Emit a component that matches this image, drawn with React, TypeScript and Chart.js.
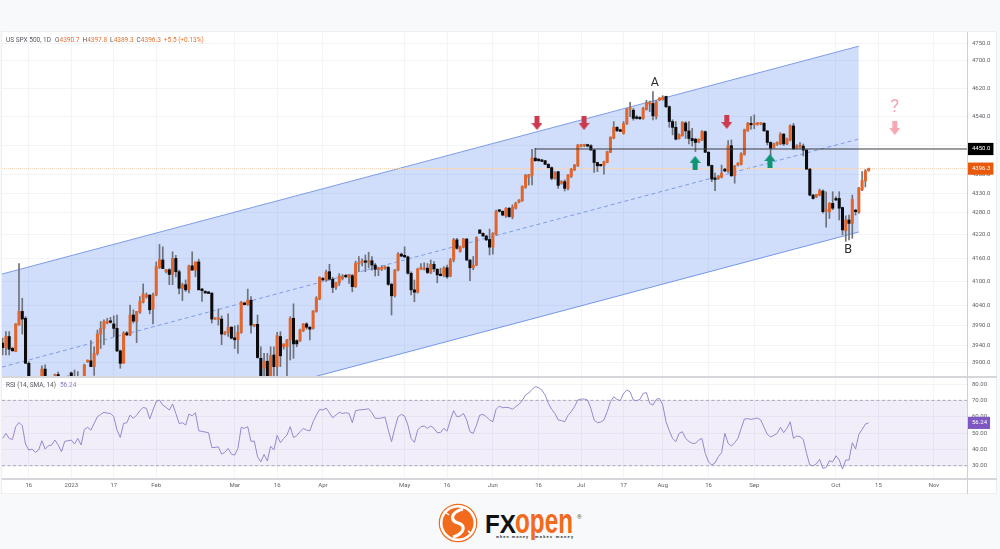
import React, { useEffect, useRef } from "react";
import { Chart, registerables } from "chart.js";

Chart.register(...registerables);

const opens = [
3947,3936,3963,3934,3927,3991,4025,4008,3898,3835,
3810,3820,3840,3884,3835,3825,3850,3871,3860,3850,
3845,3875,3855,3865,3858,3860,3902,3904,3890,3922,
3969,3983,3996,4001,3994,3983,3928,3898,3972,3967,
4016,4000,4023,4048,4061,4066,4031,4066,4136,4155,
4125,4130,4118,4159,4125,4083,4092,4079,4140,4129,
4150,4081,4075,4073,4071,4006,4005,4006,3969,3973,
3986,3960,3955,3973,4046,4042,4053,3989,3993,3910,
3886,3903,3835,3918,3890,3963,3938,3938,3955,4008,
3953,3952,3977,3994,3986,3983,4025,4056,4106,4104,
4125,4106,4086,4097,4108,4113,4111,4115,4087,4145,
4149,4152,4149,4153,4142,4131,4131,4134,4136,4093,
4064,4129,4170,4165,4163,4121,4079,4073,4132,4131,
4134,4123,4144,4131,4117,4116,4135,4114,4155,4207,
4177,4188,4209,4155,4135,4142,4233,4224,4217,4208,
4188,4222,4284,4282,4270,4290,4267,4290,4306,4310,
4346,4373,4378,4425,4422,4420,4418,4408,4399,4370,
4388,4357,4361,4343,4375,4393,4404,4457,4459,4460,
4459,4447,4413,4406,4405,4413,4441,4480,4510,4503,
4493,4520,4561,4558,4538,4535,4535,4560,4575,4577,
4540,4587,4588,4597,4568,4526,4510,4479,4487,4522,
4500,4479,4477,4469,4475,4498,4441,4405,4368,4369,
4373,4395,4389,4459,4377,4406,4408,4435,4500,4519,
4517,4518,4519,4521,4500,4468,4454,4463,4464,4491,
4464,4475,4514,4452,4456,4458,4447,4395,4325,4320,
4325,4336,4282,4281,4303,4316,4316,4292,4231,4259,
4250,4285,4279,4339,4363,4390.7];

const highs = [
3959,3975,3975,3937,3995,4146,4058,4012,3902,3850,
3830,3840,3892,3894,3850,3845,3872,3877,3866,3860,
3868,3877,3882,3878,3866,3896,3906,3953,3938,3979,
4000,4004,4008,4010,4014,4016,3930,3975,3975,4041,
4029,4025,4062,4094,4071,4066,4071,4150,4195,4189,
4131,4133,4176,4167,4129,4096,4104,4142,4176,4150,
4157,4083,4077,4075,4071,4008,4031,4014,3975,4019,
3987,3989,3991,4050,4048,4081,4062,3993,4016,3938,
3922,3922,3938,3938,3973,3975,3945,3956,4012,4044,
3955,3981,3995,3997,3987,4027,4062,4112,4111,4129,
4144,4111,4098,4120,4118,4118,4118,4118,4152,4164,
4158,4168,4175,4164,4146,4136,4140,4140,4139,4096,
4131,4174,4173,4189,4165,4125,4104,4134,4146,4148,
4146,4155,4151,4133,4134,4138,4142,4159,4211,4211,
4191,4211,4211,4155,4164,4215,4233,4225,4219,4235,
4226,4285,4286,4283,4292,4292,4299,4306,4313,4350,
4381,4381,4449,4452,4424,4422,4419,4410,4401,4388,
4389,4364,4366,4381,4397,4408,4463,4463,4463,4463,
4462,4449,4414,4408,4417,4444,4484,4526,4512,4505,
4526,4563,4580,4563,4543,4540,4566,4586,4584,4611,
4585,4594,4599,4598,4570,4531,4526,4492,4526,4526,
4526,4507,4480,4478,4501,4500,4443,4406,4384,4378,
4406,4397,4473,4475,4405,4413,4440,4505,4524,4540,
4545,4524,4523,4523,4501,4470,4466,4470,4495,4493,
4480,4517,4521,4462,4468,4464,4449,4397,4327,4327,
4341,4339,4334,4305,4334,4321,4334,4293,4270,4272,
4325,4287,4346,4388,4394,4397.8];

const lows = [
3918,3918,3918,3928,3926,3991,3969,3898,3820,3800,
3795,3805,3825,3820,3815,3810,3835,3850,3840,3825,
3830,3845,3840,3850,3845,3855,3900,3890,3869,3918,
3934,3943,3994,3996,3963,3926,3886,3898,3965,3965,
3996,3948,4020,4046,4058,4019,3994,4064,4133,4133,
4122,4092,4092,4112,4069,4052,4075,4071,4129,4112,
4079,4050,4071,4070,3996,4005,3991,3943,3967,3963,
3957,3934,3922,3971,4041,4040,3971,3987,3910,3810,
3830,3820,3820,3840,3867,3890,3932,3867,3906,3910,
3938,3951,3975,3981,3955,3981,4023,4054,4103,4100,
4104,4072,4080,4090,4104,4110,4095,4074,4085,4125,
4140,4125,4135,4129,4114,4115,4128,4131,4090,4016,
4061,4127,4163,4161,4119,4066,4049,4071,4130,4129,
4120,4120,4125,4097,4114,4112,4108,4112,4150,4183,
4175,4186,4153,4102,4130,4140,4224,4216,4205,4168,
4170,4219,4280,4270,4266,4266,4262,4288,4304,4308,
4343,4352,4352,4416,4416,4415,4407,4398,4366,4368,
4343,4354,4336,4339,4372,4391,4402,4456,4456,4456,
4447,4386,4388,4403,4381,4412,4440,4478,4498,4498,
4491,4518,4540,4530,4533,4532,4532,4558,4554,4531,
4533,4585,4586,4565,4510,4489,4475,4477,4485,4479,
4464,4458,4443,4467,4473,4440,4403,4361,4337,4367,
4371,4388,4386,4375,4357,4404,4406,4433,4499,4505,
4506,4516,4517,4499,4461,4431,4452,4460,4462,4460,
4462,4472,4450,4450,4452,4431,4394,4323,4314,4318,
4323,4277,4240,4263,4286,4310,4259,4220,4203,4207,
4211,4272,4276,4337,4347,4389.3];

const closes = [
3936,3963,3932,3928,3994,4025,4006,3898,3835,3810,
3820,3830,3884,3835,3825,3838,3871,3860,3850,3845,
3862,3855,3865,3858,3862,3894,3904,3890,3922,3969,
3983,4000,4001,3998,3983,3928,3898,3971,3967,4016,
4001,4025,4050,4069,4066,4029,4066,4138,4155,4133,
4130,4118,4159,4125,4083,4092,4079,4140,4129,4150,
4079,4077,4071,4070,4006,4008,4007,3969,3974,3986,
3959,3955,3973,4048,4042,4053,3991,3993,3912,3820,
3903,3835,3916,3890,3965,3916,3945,3955,4008,3945,
3945,3979,3994,3986,3981,4026,4058,4111,4104,4124,
4106,4085,4097,4114,4112,4112,4117,4087,4146,4149,
4151,4149,4153,4142,4131,4134,4136,4138,4093,4064,
4129,4170,4165,4163,4121,4079,4073,4132,4135,4134,
4123,4144,4132,4117,4115,4134,4112,4155,4207,4185,
4189,4209,4155,4135,4142,4213,4224,4217,4207,4188,
4224,4282,4282,4272,4290,4268,4293,4303,4312,4348,
4378,4380,4425,4418,4418,4416,4408,4399,4370,4386,
4351,4361,4343,4379,4395,4406,4461,4459,4460,4458,
4447,4413,4404,4404,4415,4443,4482,4510,4501,4499,
4520,4561,4563,4535,4535,4534,4563,4579,4578,4542,
4582,4592,4595,4568,4526,4510,4477,4489,4524,4500,
4479,4473,4468,4477,4498,4441,4405,4368,4367,4375,
4384,4390,4459,4377,4404,4411,4437,4503,4521,4517,
4520,4521,4521,4500,4468,4452,4464,4468,4491,4464,
4478,4514,4450,4458,4460,4447,4395,4325,4316,4327,
4337,4281,4284,4303,4290,4312,4290,4233,4259,4250,
4314,4281,4344,4364,4390,4396.3];

const rsi = [
46.7,49.8,46.7,46.1,53.9,56.5,54.5,43.3,39.6,40.2,
38.2,39.6,45.3,40.2,42.2,42.7,45.7,42.7,38.6,44.9,
45.3,45.7,43.3,46.7,42.7,52.2,53.5,51.8,55.9,60,
61.4,62.7,62.2,62,60,51.8,47.3,55.9,56.3,61,
59,61,63.7,65.7,65.1,58.6,64.1,69.2,70.2,67.1,
65.7,64.1,67.8,62,55.9,56.3,54.9,61.6,60.6,62.4,
51.4,51,50.6,50.2,41.2,41.2,41.6,37.1,38.2,40.6,
37.1,36.5,40.6,53.5,52.9,53.9,44.9,45.1,35.5,32.4,
36.9,32.9,42,39.6,48.6,44.1,46.7,48.8,53.9,47.3,
48.4,50.8,52.9,51.8,51.4,56.9,61,64.5,64.1,65.3,
62.4,59.4,61,62.7,62,62.4,62,56.3,63.7,64.1,
64.3,64.5,64.9,62.4,59,59,59.2,59.8,51.8,44.7,
52.9,60,61.4,60.4,54.9,46.7,44.3,51.8,53.9,54.3,
52.9,54.3,52.9,50.2,50.4,52.9,51.2,58,63.7,60,
60.4,62,58,50.8,49.8,54.9,61,61.4,60,58,
56.9,64.5,66.5,65.5,65.7,65.5,64.5,66.1,67.6,69.8,
73.3,74.5,76.7,78.4,77.8,76.3,73.3,68.2,64.5,62,
58,57.6,56.9,60.8,63.1,66.1,70.2,70.8,70.8,70.2,
65.1,58,56.3,56.7,58,63.1,69.2,72.2,70.6,69.8,
74.3,76.3,75.3,70.2,69.8,70.6,74.3,74.7,68.2,67.1,
70.6,71.2,67.1,56.9,51.4,46.7,44.7,49.8,50.8,46.7,
44.9,43.7,43.7,45.7,46.7,37.6,32.4,30.4,31.8,35.5,
38,49.8,43.7,42,44.1,46.7,52.9,58.6,58.8,58.4,
58.8,59.2,58,53.5,49.2,47.6,48.6,49.8,53.5,50.2,
52.9,56.9,46.7,48.2,47.8,46.1,37.6,30.4,30,31.2,
33.9,28.4,29,33.1,32.4,36.1,33.5,28,33.5,33.5,
44.1,40.2,49.2,52.2,55.5,56.24];

const timeTickPositions = [8,21,34,47,71,84,98,123,136,150,164,177,190,202,216,230,255,268,285];
const timeTickLabels = ["16","2023","17","Feb","Mar","16","Apr","May","16","Jun","16","Jul","17","Aug","16","Sep","Oct","15","Nov"];
const priceTicks = [4750,4700,4620,4540,4460,4380,4330,4280,4220,4160,4100,4040,3990,3940,3900];
const rsiTicks = [80,70,60,50,40,30];

const levelPrice = 4450;
const lastPrice = 4396.3;
const lastRsi = 56.24;
const levelStartBar = 162.9;
const channelBars = [-0.2, 262];
const channelUpper = [4119, 4742];
const channelMiddle = [3889, 4477.6];
const channelLower = [3672, 4227.5];
const redArrowBars = [163.5, 177.9, 221.6];
const redArrowPrices = [4522, 4522, 4525];
const greenArrowBars = [211.9, 234.8];
const greenArrowPrices = [4412, 4417];
const pinkArrowBars = [273];
const pinkArrowPrices = [4508];
const noteTexts = ["A", "B", "?"];
const noteBars = [199.6, 258.7, 273];
const notePrices = [4635, 4181, 4567];

const X_MIN = -0.2;
const X_MAX = 295.1;
const UP = "#e2662c";
const DOWN = "#0b0b0d";
const GRID = "#f3f4f6";
const LABEL = "#5f6269";

const line = (xs: number[], ys: number[]) => xs.map((x, i) => ({ x, y: ys[i] }));

const noPadding = (s: any) => {
  s.paddingLeft = 0;
  s.paddingRight = 0;
  s.paddingTop = 0;
  s.paddingBottom = 0;
};

function arrowCanvas(color: string, up: boolean) {
  const c = document.createElement("canvas");
  c.width = 11;
  c.height = 14;
  const g = c.getContext("2d")!;
  g.fillStyle = color;
  g.beginPath();
  const pts = [[3,0],[8,0],[8,7],[11,7],[5.5,14],[0,7],[3,7]];
  pts.forEach(([x, y], i) => {
    const py = up ? 14 - y : y;
    if (i === 0) g.moveTo(x, py);
    else g.lineTo(x, py);
  });
  g.closePath();
  g.fill();
  return c;
}

const timeAxis = (showLabels: boolean, height: number) => ({
  type: "linear" as const,
  min: X_MIN,
  max: X_MAX,
  offset: false,
  afterBuildTicks: (s: any) => {
    s.ticks = timeTickPositions.map((value) => ({ value }));
  },
  afterFit: (s: any) => {
    s.height = height;
    noPadding(s);
  },
  border: { display: false },
  grid: { color: GRID, lineWidth: 1, offset: false, drawTicks: false },
  ticks: {
    display: showLabels,
    autoSkip: false,
    maxRotation: 0,
    padding: 4,
    color: LABEL,
    font: { family: "Roboto", size: 6 },
    callback: (v: any) => timeTickLabels[timeTickPositions.indexOf(v)] ?? "",
  },
});

const notesPlugin = {
  id: "notes",
  afterDatasetsDraw(chart: any) {
    const { ctx, scales } = chart;
    ctx.save();
    ctx.textAlign = "center";
    ctx.textBaseline = "middle";
    noteTexts.forEach((t, i) => {
      const isQ = t === "?";
      ctx.fillStyle = isQ ? "#f4a6b2" : "#2a2a2e";
      ctx.font = `${isQ ? 18 : 12.5}px Roboto`;
      ctx.fillText(t, scales.x.getPixelForValue(noteBars[i]), scales.y.getPixelForValue(notePrices[i]));
    });
    ctx.restore();
  },
};

export default function App() {
  const mainRef = useRef<HTMLCanvasElement>(null);
  const rsiRef = useRef<HTMLCanvasElement>(null);

  useEffect(() => {
    const bodies = opens.map((o, i) => ({ x: i, y: [o, closes[i]] }));
    const wicks = lows.map((l, i) => ({ x: i, y: [l, highs[i]] }));
    const bodyColors = opens.map((o, i) => (closes[i] >= o ? UP : DOWN));
    const endpoints = [X_MIN, X_MAX];

    const main = new Chart(mainRef.current!, {
      type: "bar",
      plugins: [notesPlugin],
      data: {
        datasets: [
          { type: "line", data: line(redArrowBars, redArrowPrices), showLine: false, pointStyle: arrowCanvas("#cc3a4c", false), pointRadius: 6 },
          { type: "line", data: line(greenArrowBars, greenArrowPrices), showLine: false, pointStyle: arrowCanvas("#0f9474", true), pointRadius: 6 },
          { type: "line", data: line(pinkArrowBars, pinkArrowPrices), showLine: false, pointStyle: arrowCanvas("#f8a7b2", false), pointRadius: 6 },
          { type: "line", data: line([levelStartBar, X_MAX], [levelPrice, levelPrice]), borderColor: "#3c3d42", borderWidth: 1, pointRadius: 0 },
          { type: "bar", data: bodies, backgroundColor: bodyColors, barThickness: 2.4, minBarLength: 1.5, grouped: false },
          { type: "bar", data: wicks, backgroundColor: "#6f7279", barThickness: 1, grouped: false },
          { type: "line", data: line(endpoints, [lastPrice, lastPrice]), borderColor: "#f9d3b6", borderWidth: 1, borderDash: [1, 1], pointRadius: 0 },
          { type: "line", data: line(channelBars, channelMiddle), borderColor: "#7c9be8", borderWidth: 1, borderDash: [4, 3], pointRadius: 0 },
          { type: "line", data: line(channelBars, channelUpper), borderColor: "#7c9de8", borderWidth: 1, pointRadius: 0, fill: "+1", backgroundColor: "rgba(66,118,240,0.25)" },
          { type: "line", data: line(channelBars, channelLower), borderColor: "#7c9de8", borderWidth: 1, pointRadius: 0 },
        ] as any,
      },
      options: {
        animation: false,
        responsive: false,
        layout: { autoPadding: false, padding: { left: 2, top: 4, right: 0, bottom: 1 } },
        plugins: { legend: { display: false }, tooltip: { enabled: false } },
        scales: {
          x: timeAxis(false, 0) as any,
          y: {
            type: "logarithmic",
            position: "right",
            bounds: "data",
            min: 3867.5,
            max: 4783.7,
            afterFit: (s: any) => {
              s.width = 33;
              noPadding(s);
            },
            afterBuildTicks: (s: any) => {
              s.ticks = [...priceTicks, levelPrice, lastPrice].map((value) => ({ value }));
            },
            border: { display: false },
            grid: {
              drawTicks: false,
              color: (c: any) => (c.tick && (c.tick.value === levelPrice || c.tick.value === lastPrice) ? "transparent" : GRID),
            },
            ticks: {
              autoSkip: false,
              padding: 5,
              font: { family: "Roboto", size: 6 },
              color: (c: any) => (c.tick.value === levelPrice || c.tick.value === lastPrice ? "#ffffff" : LABEL),
              showLabelBackdrop: (c: any) => c.tick.value === levelPrice || c.tick.value === lastPrice,
              backdropColor: (c: any) => (c.tick.value === levelPrice ? "#000000" : "#e8590c"),
              backdropPadding: { left: 4, right: 3, top: 2.5, bottom: 2.5 },
              callback: (v: any) => Number(v).toFixed(1),
            },
          } as any,
        },
      },
    });

    const osc = new Chart(rsiRef.current!, {
      type: "line",
      data: {
        datasets: [
          { data: rsi.map((y, x) => ({ x, y })), borderColor: "#9a86cb", borderWidth: 1, pointRadius: 0, tension: 0 },
          { data: line(endpoints, [70, 70]), borderColor: "#9c98a6", borderWidth: 0.8, borderDash: [3, 2.5], pointRadius: 0, fill: "+1", backgroundColor: "rgba(126,87,194,0.1)" },
          { data: line(endpoints, [30, 30]), borderColor: "#9c98a6", borderWidth: 0.8, borderDash: [3, 2.5], pointRadius: 0 },
        ] as any,
      },
      options: {
        animation: false,
        responsive: false,
        layout: { autoPadding: false, padding: { left: 2, top: 0, right: 0, bottom: 0 } },
        plugins: { legend: { display: false }, tooltip: { enabled: false } },
        scales: {
          x: timeAxis(true, 17) as any,
          y: {
            type: "linear",
            position: "right",
            min: 22.5,
            max: 84.3,
            afterFit: (s: any) => {
              s.width = 33;
              noPadding(s);
            },
            afterBuildTicks: (s: any) => {
              s.ticks = [...rsiTicks, lastRsi].map((value) => ({ value }));
            },
            border: { display: false },
            grid: {
              drawTicks: false,
              color: (c: any) => (c.tick && c.tick.value === lastRsi ? "transparent" : GRID),
            },
            ticks: {
              autoSkip: false,
              padding: 5,
              font: { family: "Roboto", size: 6 },
              color: (c: any) => (c.tick.value === lastRsi ? "#ffffff" : LABEL),
              showLabelBackdrop: (c: any) => c.tick.value === lastRsi,
              backdropColor: "#7e57c2",
              backdropPadding: { left: 4, right: 3, top: 2.5, bottom: 2.5 },
              callback: (v: any) => Number(v).toFixed(2),
            },
          } as any,
        },
      },
    });

    return () => {
      main.destroy();
      osc.destroy();
    };
  }, []);

  const orange = { color: "#e5722f" };
  const gap = { marginLeft: 3 };
  return (
    <div style={{ position: "fixed", left: 0, top: 0, width: 1000, height: 549, overflow: "hidden", background: "#f8f9fb", fontFamily: "Roboto" }}>
      <div style={{ position: "absolute", left: 1, top: 31, width: 996, height: 463, background: "#fff", border: "1px solid #eeeff1", boxSizing: "border-box" }} />
      <canvas ref={mainRef} width={1000} height={349} style={{ position: "absolute", left: 0, top: 28, display: "block" }} />
      <canvas ref={rsiRef} width={1000} height={118} style={{ position: "absolute", left: 0, top: 377, display: "block" }} />
      <div style={{ position: "absolute", left: 2, top: 376, width: 995, height: 1.5, background: "#d6d7db" }} />
      <div style={{ position: "absolute", left: 2, top: 478, width: 995, height: 1.5, background: "#d6d7db" }} />
      <div style={{ position: "absolute", left: 966.5, top: 32, width: 1.5, height: 462, background: "#cfd0d4" }} />
      <div style={{ position: "absolute", left: 6, top: 36, fontSize: 6.5, lineHeight: "8px", color: "#55585f", whiteSpace: "nowrap" }}>
        US SPX 500, 1D
        <span style={{ marginLeft: 4 }}>O</span><span style={orange}>4390.7</span>
        <span style={gap}>H</span><span style={orange}>4397.8</span>
        <span style={gap}>L</span><span style={orange}>4389.3</span>
        <span style={gap}>C</span><span style={orange}>4396.3</span>
        <span style={{ ...orange, ...gap }}>+5.5 (+0.13%)</span>
      </div>
      <div style={{ position: "absolute", left: 6, top: 381, fontSize: 6.5, lineHeight: "8px", color: "#55585f", whiteSpace: "nowrap" }}>
        RSI (14, SMA, 14)<span style={{ marginLeft: 4, color: "#8f78c6" }}>56.24</span>
      </div>
      <svg width={180} height={50} viewBox="430 499 180 50" style={{ position: "absolute", left: 430, top: 499 }}>
        <circle cx={458} cy={523} r={18.7} fill="#fff" stroke="#f26a1b" strokeWidth={1.2} />
        <circle cx={458} cy={523} r={15.5} fill="#f26a1b" />
        <path d="M463 509 C449 513 451 521 458 523 C465 525 466 533 453 537" fill="none" stroke="#fff" strokeWidth={3.2} />
        <path d="M449 515 L444 511 M468 531 L472 534" fill="none" stroke="#fff" strokeWidth={1.6} />
        <text x={485} y={533} fontFamily="Liberation Sans" fontWeight={700} fontSize={26} textLength={31} lengthAdjust="spacingAndGlyphs" fill="#111">FX</text>
        <text transform="translate(515,532.5) scale(1,1.5)" fontFamily="Liberation Sans" fontWeight={700} fontSize={24} textLength={58} lengthAdjust="spacingAndGlyphs" fill="#f26a1b">open</text>
        <text x={577} y={519} fontFamily="Roboto" fontSize={6} fill="#555">®</text>
        <text x={496} y={538} fontFamily="Roboto" fontWeight={700} fontSize={4} textLength={32} fill="#333">when money</text>
        <text x={535} y={538} fontFamily="Roboto" fontWeight={700} fontSize={4} textLength={38} fill="#333">makes money</text>
      </svg>
    </div>
  );
}
